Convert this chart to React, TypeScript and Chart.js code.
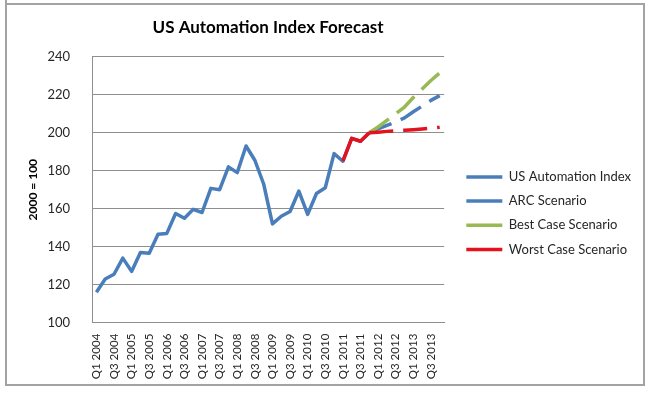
import React, { useEffect, useRef } from 'react';
import { Chart, registerables } from 'chart.js';
Chart.register(...registerables);

const quarters = [
  'Q1 2004', 'Q2 2004', 'Q3 2004', 'Q4 2004',
  'Q1 2005', 'Q2 2005', 'Q3 2005', 'Q4 2005',
  'Q1 2006', 'Q2 2006', 'Q3 2006', 'Q4 2006',
  'Q1 2007', 'Q2 2007', 'Q3 2007', 'Q4 2007',
  'Q1 2008', 'Q2 2008', 'Q3 2008', 'Q4 2008',
  'Q1 2009', 'Q2 2009', 'Q3 2009', 'Q4 2009',
  'Q1 2010', 'Q2 2010', 'Q3 2010', 'Q4 2010',
  'Q1 2011', 'Q2 2011', 'Q3 2011', 'Q4 2011',
  'Q1 2012', 'Q2 2012', 'Q3 2012', 'Q4 2012',
  'Q1 2013', 'Q2 2013', 'Q3 2013', 'Q4 2013',
];

const N = null;
const automationIndex = [
  116, 123, 125.5, 134,
  127, 137, 136.5, 146.5,
  147, 157.5, 155, 159.7,
  158, 170.7, 170, 182,
  179, 193, 185.5, 173,
  152, 156, 158.5, 169.3,
  157, 168, 171, 189,
  185, 197, 195.5, 200,
  N, N, N, N, N, N, N, N,
];
const arcScenario = [
  N, N, N, N, N, N, N, N, N, N, N, N, N, N, N, N,
  N, N, N, N, N, N, N, N, N, N, N, N, N, N, N,
  200, 202, 203.8, 205.7, 207.8, 211, 214, 217, 219.5,
];
const bestCase = [
  N, N, N, N, N, N, N, N, N, N, N, N, N, N, N, N,
  N, N, N, N, N, N, N, N, N, N, N, N, N, N, N,
  200, 203, 206.5, 210, 213.5, 218.5, 223, 227.5, 231.5,
];
const worstCase = [
  N, N, N, N, N, N, N, N, N, N, N, N, N, N, N, N,
  N, N, N, N, N, N, N, N, N, N, N, N,
  185, 197, 195.5, 200, 200.3, 200.7, 201, 201.3, 201.6, 202, 202.4, 202.8,
];
const forecastStart = 31;

const yTicks = { min: 100, max: 240, step: 20 };

const BLUE = '#4A7EBB';
const GREEN = '#98B954';
const RED = '#E3121C';
const GRID = '#8e8e8e';
const TEXT = '#262626';
const FONT = 'Lato, "Open Sans", sans-serif';
const DASH = [24, 10];
const LW = 3.5;

export default function App() {
  const ref = useRef<HTMLCanvasElement | null>(null);

  useEffect(() => {
    if (!ref.current) return;
    const chart = new Chart(ref.current, {
      type: 'line',
      data: {
        labels: quarters,
        datasets: [
          {
            label: 'US Automation Index',
            data: automationIndex,
            borderColor: BLUE,
            backgroundColor: BLUE,
            borderWidth: LW,
            order: 3,
          },
          {
            label: 'ARC Scenario',
            data: arcScenario,
            borderColor: BLUE,
            backgroundColor: BLUE,
            borderWidth: LW,
            borderDash: DASH,
            order: 2,
          },
          {
            label: 'Best Case Scenario',
            data: bestCase,
            borderColor: GREEN,
            backgroundColor: GREEN,
            borderWidth: LW,
            borderDash: DASH,
            order: 1,
          },
          {
            label: 'Worst Case Scenario',
            data: worstCase,
            borderColor: RED,
            backgroundColor: RED,
            borderWidth: LW,
            order: 0,
            segment: {
              borderDash: (ctx: any) => (ctx.p0DataIndex >= forecastStart ? DASH : []),
            },
          },
        ],
      },
      options: {
        responsive: false,
        animation: false,
        devicePixelRatio: 1,
        elements: {
          point: { radius: 0, hoverRadius: 0 },
          line: { tension: 0, borderJoinStyle: 'round', borderCapStyle: 'butt', fill: false },
        },
        layout: { padding: { top: 5, left: 24, right: 10, bottom: 13.3 } },
        plugins: {
          tooltip: { enabled: false },
          title: {
            display: true,
            text: 'US Automation Index Forecast',
            fullSize: false,
            color: '#000',
            font: { family: FONT, size: 17, weight: 'bold' },
            padding: { top: 12.3, bottom: 19 },
          },
          legend: {
            position: 'right',
            align: 'center',
            maxWidth: 260,
            title: {
              display: true,
              text: ' ',
              font: { family: FONT, size: 10, lineHeight: 1.2 },
              padding: { top: 29.7, bottom: 0 },
            },
            labels: {
              usePointStyle: true,
              pointStyle: 'line',
              pointStyleWidth: 36,
              boxWidth: 36,
              padding: 11.2,
              color: TEXT,
              font: { family: FONT, size: 13 },
              sort: (a: any, b: any) => a.datasetIndex - b.datasetIndex,
              generateLabels: (c: any) => {
                const items = (Chart.defaults.plugins.legend.labels as any).generateLabels(c);
                return items.map((it: any) => ({
                  ...it,
                  pointStyle: 'line',
                  lineDash: [],
                  lineWidth: LW,
                  strokeStyle: c.data.datasets[it.datasetIndex].borderColor,
                  fillStyle: c.data.datasets[it.datasetIndex].borderColor,
                }));
              },
            },
          },
        },
        scales: {
          x: {
            type: 'category',
            offset: true,
            grid: { display: false, drawTicks: false },
            border: { display: true, color: GRID, width: 1 },
            ticks: {
              autoSkip: false,
              minRotation: 90,
              maxRotation: 90,
              padding: 11,
              color: TEXT,
              font: { family: FONT, size: 11.5 },
              callback: (_v: any, i: number) => (i % 2 === 0 ? quarters[i] : ''),
            },
            afterFit: (s: any) => {
              s.height = 57;
            },
          },
          y: {
            min: yTicks.min,
            max: yTicks.max,
            ticks: {
              stepSize: yTicks.step,
              padding: 22,
              color: TEXT,
              font: { family: FONT, size: 13 },
            },
            grid: { color: GRID, drawTicks: false, lineWidth: 1 },
            border: { display: true, color: GRID, width: 1 },
            title: {
              display: true,
              text: '2000 = 100',
              color: '#000',
              font: { family: FONT, size: 12, weight: 'bold' },
              padding: { top: 1.8, bottom: 4 },
            },
            afterFit: (s: any) => {
              s.width = 68;
            },
          },
          y2: {
            position: 'right',
            display: true,
            grid: { display: false, drawTicks: false },
            border: { display: false },
            ticks: { display: false },
            afterFit: (s: any) => {
              s.width = 11;
            },
          },
        },
      },
    } as any);
    return () => chart.destroy();
  }, []);

  const line = (style: React.CSSProperties) => (
    <div style={{ position: 'absolute', background: '#a3a3a3', ...style }} />
  );

  return (
    <div style={{ position: 'fixed', left: 0, top: 0, width: 651, height: 393, background: '#fff', overflow: 'hidden' }}>
      {line({ left: 5, top: 0, width: 2, height: 386 })}
      {line({ left: 5, top: 3, width: 640, height: 2 })}
      {line({ left: 643, top: 3, width: 2, height: 383 })}
      {line({ left: 5, top: 384, width: 640, height: 2 })}
      <canvas ref={ref} width={651} height={393} style={{ position: 'absolute', left: 0, top: 0, width: 651, height: 393 }} />
    </div>
  );
}
